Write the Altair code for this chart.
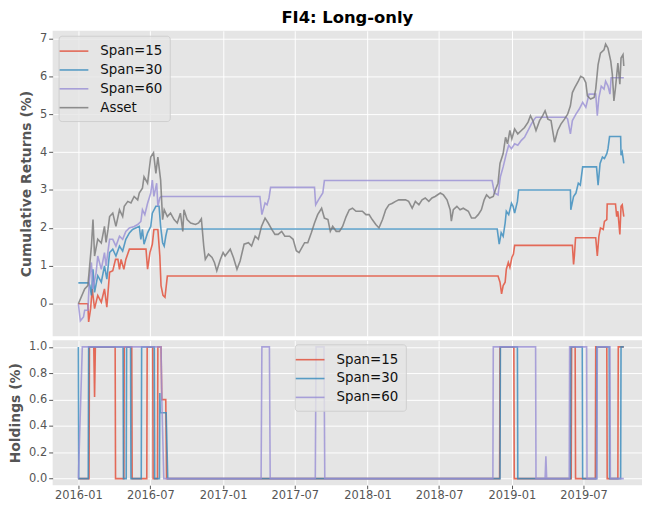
import altair as alt
import pandas as pd

BASE_DATE = "2016-01-01"
ret_names = ["Span=15", "Span=30", "Span=60", "Asset"]
ret_colors = ["#E24A33", "#348ABD", "#988ED5", "#777777"]
hold_names = ["Span=15", "Span=30", "Span=60"]
hold_colors = ["#E24A33", "#348ABD", "#988ED5"]

# ---- cumulative returns (days since 2016-01-01, value in %) ----
span15_days = [0, 24, 26, 31, 35, 41, 49, 58, 66, 72, 79, 87, 94, 100, 104, 108, 115, 120, 129, 171,
               175, 181, 187, 191, 201, 206, 209, 214, 219, 225, 1061, 1066, 1070, 1074, 1079, 1082, 1087, 1091, 1096, 1100,
               1103, 1249, 1252, 1254, 1257, 1308, 1312, 1316, 1320, 1327, 1330, 1336, 1337, 1358, 1361, 1364, 1369, 1372, 1375, 1379]
span15_vals = [0.0, 0.0, -0.48, -0.13, 0.39, -0.13, 0.22, 0.04, 0.39, -0.09, 0.83, 0.87, 1.17, 1.17, 0.91, 1.17, 0.91, 1.17, 1.44, 1.44,
               0.91, 1.35, 1.57, 1.96, 1.96, 1.26, 0.48, 0.22, 0.17, 0.73, 0.73, 0.57, 0.26, 0.48, 0.57, 0.91, 1.09, 0.96, 1.22, 1.31,
               1.54, 1.54, 1.04, 1.26, 1.74, 1.74, 1.26, 1.78, 2.00, 1.96, 2.17, 2.22, 2.63, 2.63, 2.30, 2.44, 1.83, 2.57, 2.61, 2.30]

span30_days = [0, 26, 29, 33, 37, 41, 49, 58, 66, 72, 79, 87, 95, 104, 112, 120, 129, 137, 145, 154,
               158, 162, 166, 175, 183, 187, 196, 204, 208, 213, 217, 221, 225, 1059, 1064, 1069, 1074, 1079, 1082, 1088,
               1095, 1099, 1103, 1110, 1113, 1244, 1245, 1252, 1258, 1264, 1269, 1275, 1310, 1314, 1319, 1325, 1330, 1336, 1339, 1343,
               1371, 1372, 1375, 1379]
span30_vals = [0.55, 0.55, 0.48, 0.22, 0.91, 0.30, 0.74, 0.57, 1.00, 0.65, 1.35, 1.44, 1.26, 1.52, 1.39, 1.70, 1.87, 1.96, 2.00, 2.04,
               1.70, 1.96, 1.57, 1.87, 2.04, 2.39, 2.57, 2.57, 2.04, 1.61, 1.52, 1.78, 1.97, 1.97, 1.57, 1.87, 1.78, 2.13, 2.44, 2.35,
               2.65, 2.57, 2.39, 2.70, 3.00, 3.00, 2.48, 2.83, 2.92, 3.18, 3.13, 3.61, 3.61, 3.13, 3.70, 3.87, 3.83, 3.96, 4.09, 4.41,
               4.41, 3.92, 4.00, 3.70]

span60_days = [0, 5, 13, 16, 24, 28, 33, 37, 45, 49, 58, 66, 70, 79, 87, 95, 104, 112, 120, 129,
               141, 150, 158, 162, 168, 175, 183, 187, 191, 198, 201, 206, 209, 459, 464, 472, 477, 482, 486, 597,
               600, 607, 618, 622, 1046, 1052, 1061, 1067, 1074, 1082, 1088, 1095, 1103, 1111, 1120, 1128, 1137, 1145, 1153, 1157,
               1233, 1237, 1244, 1249, 1258, 1266, 1275, 1283, 1287, 1291, 1308, 1312, 1316, 1322, 1329, 1333, 1339, 1344, 1347, 1379]
span60_vals = [0.0, -0.45, -0.35, -0.17, -0.17, 0.65, 1.09, 0.39, 0.83, 1.26, 0.91, 1.35, 1.00, 1.70, 1.70, 1.52, 1.78, 1.70, 1.91, 2.00,
               2.04, 2.09, 2.17, 2.48, 2.35, 2.65, 2.92, 3.26, 2.83, 3.18, 2.57, 2.79, 2.83, 2.83, 2.35, 2.66, 2.61, 2.79, 3.07, 3.07,
               2.61, 2.74, 2.92, 3.25, 3.25, 2.92, 2.87, 3.35, 3.61, 3.96, 4.18, 4.09, 4.22, 4.18, 4.31, 4.39, 4.57, 4.74, 4.87, 4.92,
               4.92, 4.87, 4.48, 4.83, 5.00, 5.13, 5.31, 5.18, 5.35, 5.53, 5.53, 4.96, 5.44, 5.74, 5.66, 5.87, 5.74, 5.53, 5.96, 5.96]

asset_days = [0, 16, 24, 33, 37, 41, 49, 58, 66, 70, 75, 79, 87, 95, 104, 112, 116, 125, 133, 141,
              150, 154, 162, 166, 175, 183, 190, 196, 201, 208, 213, 217, 225, 233, 242, 250, 258, 264, 267, 275,
              284, 296, 304, 311, 317, 321, 329, 338, 344, 350, 359, 366, 371, 384, 392, 401, 409, 419, 430, 438,
              447, 455, 463, 472, 480, 489, 497, 505, 514, 522, 534, 543, 551, 558, 572, 580, 589, 597, 605, 615,
              622, 631, 637, 643, 652, 660, 668, 677, 685, 693, 702, 710, 718, 727, 735, 743, 752, 760, 769, 777,
              785, 794, 802, 810, 819, 827, 835, 844, 852, 861, 869, 877, 886, 894, 902, 915, 923, 932, 940, 943,
              948, 957, 965, 973, 986, 994, 1003, 1011, 1019, 1026, 1032, 1040, 1049, 1055, 1061, 1066, 1074, 1080, 1085, 1091,
              1096, 1103, 1111, 1120, 1128, 1137, 1143, 1149, 1157, 1166, 1174, 1180, 1187, 1195, 1199, 1204, 1212, 1220, 1229, 1237,
              1244, 1249, 1255, 1264, 1270, 1277, 1283, 1287, 1295, 1304, 1308, 1314, 1320, 1329, 1333, 1339, 1346, 1350, 1354, 1358,
              1364, 1369, 1372, 1377, 1379]
asset_vals = [0.00, 0.39, 0.48, 1.52, 2.22, 1.26, 1.70, 1.60, 2.04, 1.62, 1.96, 2.30, 2.39, 2.04, 2.48, 2.30, 2.57, 2.70, 2.66, 2.83,
              2.74, 2.92, 3.05, 3.35, 3.18, 3.87, 3.98, 3.44, 3.87, 3.26, 2.22, 2.48, 2.30, 2.39, 2.22, 2.13, 2.39, 1.91, 2.48, 2.22,
              2.13, 2.09, 2.13, 2.24, 1.52, 1.17, 1.31, 1.22, 1.09, 0.87, 1.17, 1.35, 1.26, 1.44, 1.22, 0.91, 1.13, 1.57, 1.61, 1.52,
              1.78, 1.70, 2.04, 2.26, 2.13, 1.96, 1.83, 1.83, 1.91, 1.78, 1.78, 1.70, 1.40, 1.35, 1.61, 1.61, 1.87, 2.13, 2.35, 2.52,
              2.26, 2.22, 1.91, 2.04, 1.91, 1.91, 2.04, 2.30, 2.48, 2.52, 2.44, 2.44, 2.44, 2.35, 2.35, 2.22, 2.09, 2.00, 2.22, 2.48,
              2.61, 2.65, 2.70, 2.74, 2.74, 2.74, 2.70, 2.52, 2.70, 2.61, 2.74, 2.79, 2.70, 2.79, 2.83, 2.92, 2.87, 2.74, 2.48, 2.18,
              2.48, 2.57, 2.48, 2.52, 2.44, 2.26, 2.26, 2.35, 2.48, 2.74, 2.87, 2.79, 2.83, 3.02, 3.18, 3.70, 3.96, 4.39, 4.22, 4.57,
              4.35, 4.61, 4.48, 4.57, 4.65, 4.79, 4.96, 4.83, 4.57, 4.83, 4.96, 5.09, 4.87, 4.83, 4.57, 4.26, 4.57, 4.74, 4.87, 5.00,
              5.22, 5.57, 5.70, 5.87, 6.00, 5.96, 5.83, 5.48, 5.40, 5.44, 5.66, 6.31, 6.61, 6.70, 6.85, 6.74, 6.40, 6.05, 5.35, 5.70,
              6.35, 5.79, 6.48, 6.57, 6.27]

# ---- holdings (fraction held) ----
hold15_days = [0, 27, 28, 39, 41, 43, 93, 94, 115, 116, 135, 136, 173, 174, 188, 189, 200, 201, 209, 211,
               221, 223, 1065, 1066, 1101, 1102, 1246, 1247, 1256, 1257, 1307, 1308, 1336, 1337, 1364, 1365, 1379]
hold15_vals = [0, 0, 1, 1, 0.62, 1, 1, 0, 0, 1, 1, 0, 0, 1, 1, 0, 0, 1, 1, 0.6,
               0.6, 0, 0, 1, 1, 0, 0, 1, 1, 0, 0, 1, 1, 0, 0, 1, 1]
hold30_days = [0, 1, 25, 26, 113, 114, 121, 122, 132, 133, 159, 160, 192, 193, 205, 206, 207, 222, 226, 1066,
               1067, 1110, 1111, 1244, 1245, 1274, 1275, 1310, 1311, 1342, 1343, 1371, 1372, 1379]
hold30_vals = [1, 0, 0, 1, 1, 0, 0, 1, 1, 0, 0, 1, 1, 0, 0, 0.65, 0.5, 0.5, 0, 0,
               1, 1, 0, 0, 1, 1, 0, 0, 1, 1, 0, 0, 1, 1]
hold60_days = [0, 10, 209, 211, 216, 462, 464, 483, 485, 599, 601, 621, 623, 1048, 1049, 1156, 1157, 1180, 1182, 1184,
               1241, 1242, 1285, 1286, 1311, 1312, 1344, 1345, 1379]
hold60_vals = [0, 1, 1, 0.6, 0, 0, 1, 1, 0, 0, 1, 1, 0, 0, 1, 1, 0, 0, 0.17, 0,
               0, 1, 1, 0, 0, 1, 1, 0, 0]

x_tick_months = [(2016, 1), (2016, 7), (2017, 1), (2017, 7), (2018, 1), (2018, 7), (2019, 1), (2019, 7)]

base = pd.Timestamp(BASE_DATE)


def frame(name, days, vals):
    return pd.DataFrame({
        "date": base + pd.to_timedelta(days, unit="D"),
        "value": vals,
        "series": name,
    })


ret_df = pd.concat([
    frame("Span=15", span15_days, span15_vals),
    frame("Span=30", span30_days, span30_vals),
    frame("Span=60", span60_days, span60_vals),
    frame("Asset", asset_days, asset_vals),
], ignore_index=True)

hold_df = pd.concat([
    frame("Span=15", hold15_days, hold15_vals),
    frame("Span=30", hold30_days, hold30_vals),
    frame("Span=60", hold60_days, hold60_vals),
], ignore_index=True)

x_domain = [alt.DateTime(year=2015, month=10, date=28), alt.DateTime(year=2019, month=11, date=26)]
x_ticks = [alt.DateTime(year=y, month=m, date=1) for y, m in x_tick_months]

FONT = "DejaVu Sans"
W = 594

legend_common = dict(
    title=None,
    orient="none",
    symbolType="M-2,0L2,0",
    symbolSize=210,
    symbolStrokeWidth=1.6,
    symbolOpacity=0.8,
    labelFont=FONT,
    labelFontSize=13.5,
    labelColor="#111111",
    labelOffset=18,
    rowPadding=4,
    padding=7,
    fillColor="rgba(229,229,229,0.8)",
    strokeColor="rgba(204,204,204,0.9)",
    cornerRadius=3,
)

top = alt.Chart(ret_df).mark_line(strokeWidth=1.6, opacity=0.8).encode(
    x=alt.X("date:T", scale=alt.Scale(domain=x_domain),
            axis=alt.Axis(values=x_ticks, labels=False, ticks=False, domain=False, title=None)),
    y=alt.Y("value:Q", scale=alt.Scale(domain=[-0.86, 7.2], nice=False, zero=False),
            axis=alt.Axis(values=list(range(8)), title="Cumulative Returns (%)", format="d")),
    color=alt.Color("series:N", sort=ret_names,
                    scale=alt.Scale(domain=ret_names, range=ret_colors),
                    legend=alt.Legend(legendX=6, legendY=5, **legend_common)),
).properties(
    width=W, height=308,
    title=alt.TitleParams("FI4: Long-only", font=FONT, fontSize=16.5, fontWeight="bold",
                          color="#000000", anchor="middle", frame="group", offset=4),
)

bottom = alt.Chart(hold_df).mark_line(strokeWidth=1.6, opacity=0.8).encode(
    x=alt.X("date:T", scale=alt.Scale(domain=x_domain),
            axis=alt.Axis(values=x_ticks, format="%Y-%m", formatType="time", title=None,
                          labelAngle=0, domain=False, tickSize=3.5, labelPadding=1)),
    y=alt.Y("value:Q", scale=alt.Scale(domain=[-0.05, 1.05], nice=False, zero=False),
            axis=alt.Axis(values=[0, 0.2, 0.4, 0.6, 0.8, 1.0], format=".1f", title="Holdings (%)")),
    color=alt.Color("series:N", sort=hold_names,
                    scale=alt.Scale(domain=hold_names, range=hold_colors),
                    legend=alt.Legend(legendX=244, legendY=4, **legend_common)),
).properties(width=W, height=146)

chart = alt.vconcat(top, bottom, spacing=4, padding=0).resolve_scale(color="independent").configure(
    background="white",
).configure_view(
    fill="#E5E5E5", strokeWidth=0,
).configure_axis(
    labelFont=FONT, labelFontSize=11.5, labelColor="#555555",
    titleFont=FONT, titleFontSize=14, titleFontWeight="bold", titleColor="#555555",
    tickColor="#555555", tickSize=4, tickWidth=1, labelPadding=2, titlePadding=6,
    gridColor="#FFFFFF", gridWidth=1, gridOpacity=1, domain=False,
)

chart.save("out.html", embed_options={"renderer": "svg", "actions": False})
